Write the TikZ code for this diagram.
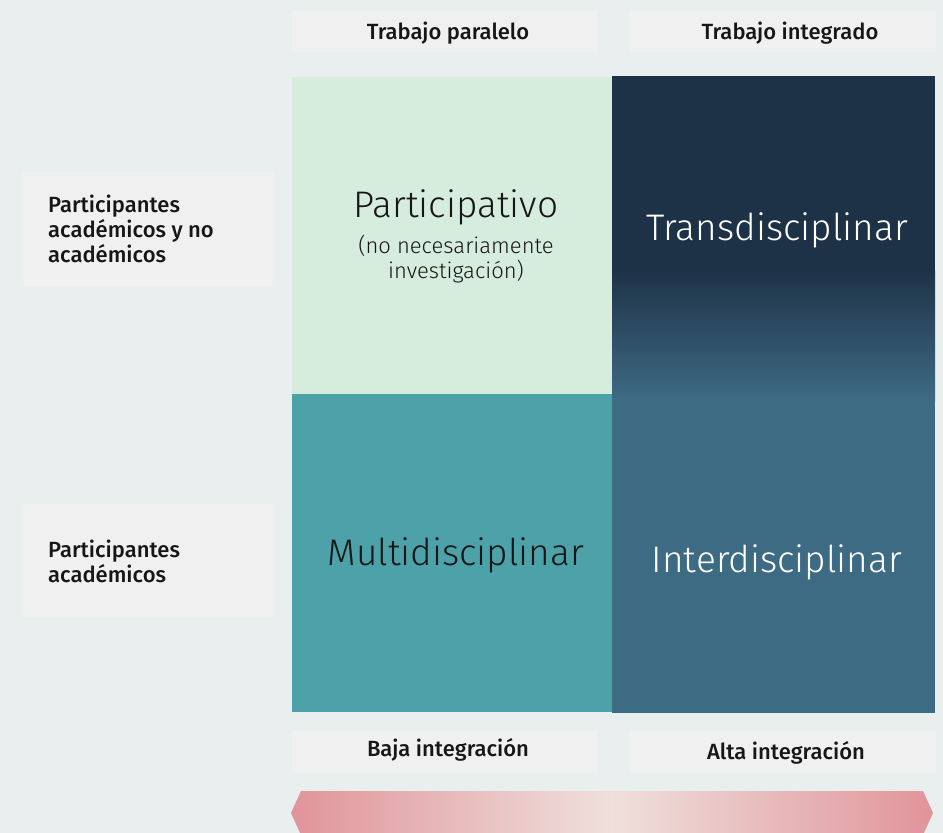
\documentclass[tikz,border=0pt]{standalone}
\usepackage{fontspec}
\setmainfont{Fira Sans}
\newfontfamily\lightfont{Fira Sans Light}
\newfontfamily\medfont{Fira Sans Medium}
\definecolor{bg}{HTML}{E9EFEF}
\definecolor{tag}{HTML}{F0F0F0}
\definecolor{mint}{HTML}{D6EDDD}
\definecolor{teal}{HTML}{4CA2A8}
\definecolor{navy}{HTML}{1E3247}
\definecolor{steel}{HTML}{3E6B84}
\definecolor{rose}{HTML}{E0949A}
\definecolor{blush}{HTML}{EFE0DC}
\definecolor{ink}{HTML}{161616}
\begin{document}
\begin{tikzpicture}[x=1pt,y=-1pt,
    tag/.style={fill=tag,inner sep=0pt},
    label/.style={font=\medfont\fontsize{22}{25}\selectfont,text=ink,inner sep=0pt},
    side/.style={font=\medfont\fontsize{22}{25}\selectfont,text=ink,inner sep=0pt,anchor=west,align=left},
    big/.style={font=\lightfont\fontsize{37}{40}\selectfont},
    small/.style={font=\lightfont\fontsize{22}{25}\selectfont,text=ink,align=center}]
  \useasboundingbox (0,0) rectangle (943,833);
  \fill[bg] (0,0) rectangle (943,833);
  % grey tags round the grid
  \fill[tag] (292,10) rectangle (597,52);
  \fill[tag] (629,10) rectangle (936,52);
  \fill[tag] (22,172) rectangle (274,287);
  \fill[tag] (22,504) rectangle (274,617);
  \fill[tag] (292,730) rectangle (597,773);
  \fill[tag] (629,730) rectangle (936,773);
  % the four cells
  \fill[mint] (292,77) rectangle (612,394);
  \fill[teal] (292,394) rectangle (612,712);
  \fill[navy] (612,76) rectangle (935,271);
  \shade[top color=navy,bottom color=steel] (612,270) rectangle (935,401);
  \fill[steel] (612,400) rectangle (935,713);
  % arrow along the bottom
  \shade[left color=rose,right color=rose,middle color=blush]
    (291,813) -- (301,791) -- (923,791) -- (933,813) -- (923,835) -- (301,835) -- cycle;
  \draw
    (448,33) node[label] (paralelo){Trabajo paralelo}
    (790,33) node[label] (integrado){Trabajo integrado}
    (448,750) node[label] (baja){Baja integración}
    (786,753) node[label] (alta){Alta integración}
    (48,229) node[side] (mixto){Participantes\\académicos y no\\académicos}
    (48,561) node[side] (academ){Participantes\\académicos};
  \draw
    (456,207) node[big,text=ink] (partic){Participativo}
    (456,259) node[small] (nota){(no necesariamente\\investigación)}
    (456,555) node[big,text=ink] (multi){Multidisciplinar}
    (777,230) node[big,text=white] (trans){Transdisciplinar}
    (777,562) node[big,text=white] (inter){Interdisciplinar};
\end{tikzpicture}
\end{document}
